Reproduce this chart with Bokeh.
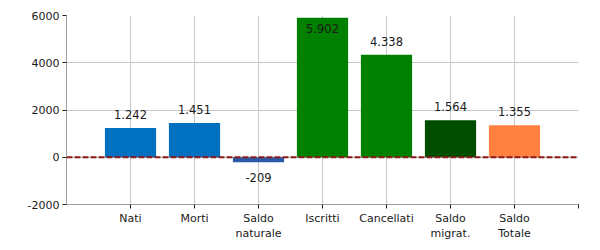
from bokeh.plotting import figure
from bokeh.models import ColumnDataSource, FixedTicker, Range1d, LabelSet, Span
from bokeh.core.properties import value
from bokeh.embed import file_html
from bokeh.resources import INLINE

categories = ["Nati", "Morti", "Saldo\nnaturale", "Iscritti", "Cancellati", "Saldo\nmigrat.", "Saldo\nTotale"]
values = [1242, 1451, -209, 5902, 4338, 1564, 1355]
colors = ["#0070C0", "#0070C0", "#2A5BA8", "#008000", "#008000", "#004D00", "#FF8040"]
y_ticks = [-2000, 0, 2000, 4000, 6000]
y_tick_labels = ["-2000", "0", "2000", "4000", "6000"]

xs = list(range(1, len(categories) + 1))
labels = [f"{v:,}".replace(",", ".") for v in values]
offsets = []
baselines = []
for v in values:
    if v < 0:
        offsets.append(-11)
        baselines.append("top")
    elif v > 5500:
        offsets.append(-6)
        baselines.append("top")
    else:
        offsets.append(9)
        baselines.append("bottom")

src = ColumnDataSource(dict(x=xs, top=values, color=colors))

p = figure(width=600, height=250, output_backend="svg", toolbar_location=None,
           x_range=Range1d(0, 8), y_range=Range1d(-2000, 6000),
           min_border_left=66, min_border_right=22, min_border_top=15, min_border_bottom=46)
p.outline_line_color = None
p.background_fill_color = "white"

p.vbar(x="x", top="top", bottom=0, width=0.8, fill_color="color", line_color=None, source=src)

p.add_layout(Span(location=0, dimension="width", line_color="#8B1A1A",
                  line_width=2, line_dash="6 2"))

font = "DejaVu Sans"
for base in ["top", "bottom"]:
    idx = [i for i in range(len(values)) if baselines[i] == base]
    s = ColumnDataSource(dict(x=[xs[i] for i in idx], y=[values[i] for i in idx],
                              label=[labels[i] for i in idx], off=[offsets[i] for i in idx]))
    ls = LabelSet(x="x", y="y", text="label", source=s, y_offset="off",
                  text_align="center", text_baseline=base, text_font=value(font),
                  text_font_size="11.5px", text_color="#1a1a1a")
    p.add_layout(ls)

p.xaxis.ticker = FixedTicker(ticks=list(range(1, 9)))
p.xaxis.major_label_overrides = {i + 1: c for i, c in enumerate(categories)}
p.xaxis.major_label_overrides[8] = ""
p.yaxis.ticker = FixedTicker(ticks=y_ticks)
p.yaxis.major_label_overrides = dict(zip(y_ticks, y_tick_labels))
p.xgrid.ticker = FixedTicker(ticks=list(range(1, 9)))
p.ygrid.ticker = FixedTicker(ticks=y_ticks)
p.grid.grid_line_color = "#C8C8C8"
p.grid.grid_line_width = 1

for ax in (p.xaxis, p.yaxis):
    ax.axis_line_color = "#A0A0A0"
    ax.major_tick_line_color = "#202020"
    ax.minor_tick_line_color = None
    ax.major_tick_in = 0
    ax.major_tick_out = 4
    ax.major_label_text_font = font
    ax.major_label_text_font_size = "11px"
    ax.major_label_text_color = "#1a1a1a"
p.xaxis.major_label_standoff = 3
p.yaxis.major_label_standoff = 3

open("out.html", "w").write(file_html(p, INLINE))
